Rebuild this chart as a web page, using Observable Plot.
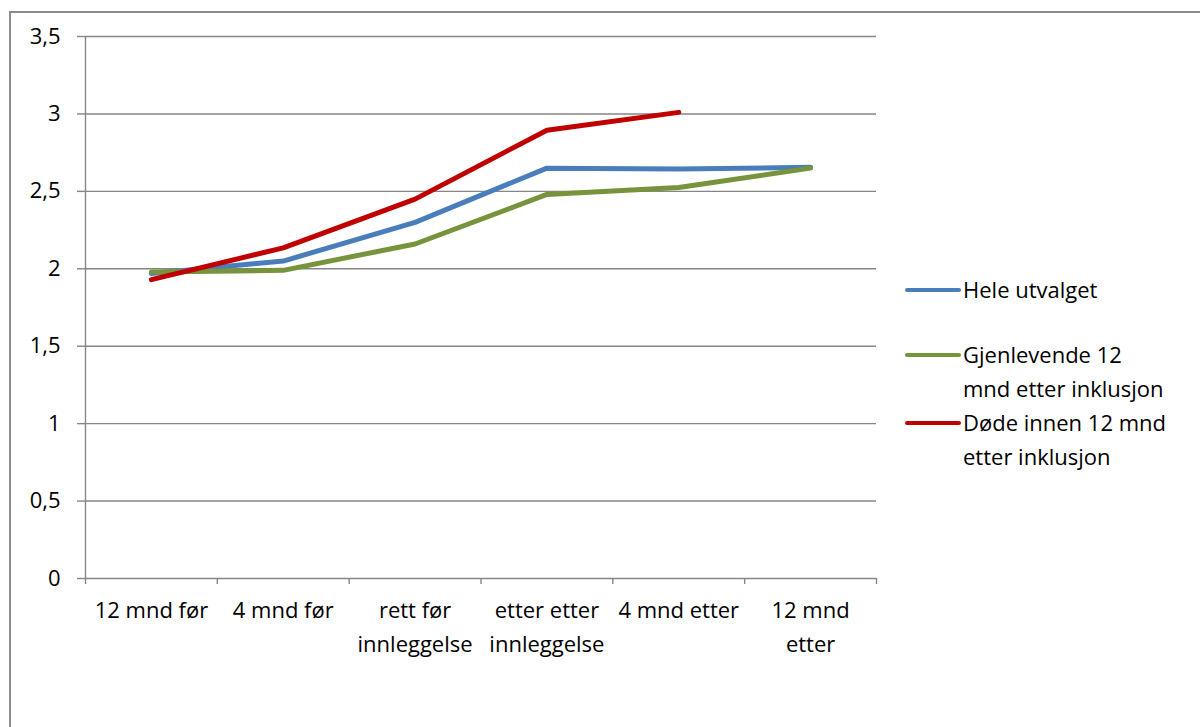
<!DOCTYPE html>
<html>
<head>
<meta charset="utf-8">
<script src="https://cdn.jsdelivr.net/npm/d3@7"></script>
<script src="https://cdn.jsdelivr.net/npm/@observablehq/plot@0.6"></script>
<style>
  html, body { margin: 0; padding: 0; background: #fff; overflow: hidden; }
  body { width: 1200px; height: 727px; position: relative; font-family: "Open Sans", Lato, sans-serif; }
  #frame { position: absolute; left: 9px; top: 11px; width: 1300px; height: 900px; border: 2px solid #8c8c8c; box-sizing: border-box; z-index: 5; pointer-events: none; }
  #chart { position: absolute; left: 0; top: 0; }
  #legend { position: absolute; left: 905px; top: 0; width: 295px; font-size: 22px; color: #000; }
  .item { position: absolute; left: 0; display: flex; align-items: flex-start; }
  .sw { width: 56px; height: 4px; border-radius: 2px; margin-top: 15px; flex: none; }
  .lbl { margin-left: 2px; line-height: 33.5px; white-space: pre; }
</style>
</head>
<body>
<div id="frame"></div>
<div id="chart"></div>
<div id="legend"></div>
<script>
const categories = ["12 mnd før", "4 mnd før", "rett før\ninnleggelse", "etter etter\ninnleggelse", "4 mnd etter", "12 mnd\netter"];
const seriesNames = ["Hele utvalget", "Gjenlevende 12\nmnd etter inklusjon", "Døde innen 12 mnd\netter inklusjon"];
const heleUtvalget = [1.97, 2.05, 2.30, 2.65, 2.645, 2.655];
const gjenlevende = [1.98, 1.99, 2.16, 2.48, 2.525, 2.65];
const dode = [1.93, 2.135, 2.45, 2.895, 3.01, null];
const yTicks = [0, 0.5, 1, 1.5, 2, 2.5, 3, 3.5];
const colors = ["#4a7ebb", "#77933c", "#c00000"];

const seriesValues = [heleUtvalget, gjenlevende, dode];
const rows = [];
seriesValues.forEach((vals, s) => vals.forEach((v, i) => {
  if (v != null) rows.push({series: seriesNames[s], i, v});
}));
const idx = categories.map((_, i) => i);
const bounds = d3.range(-0.5, categories.length, 1);
const grey = "#868686";
const fmt = d => String(d).replace(".", ",");

const chart = Plot.plot({
  width: 1200,
  height: 727,
  marginLeft: 85,
  marginRight: 324,
  marginTop: 36,
  marginBottom: 149,
  style: {fontFamily: "'Open Sans', Lato, sans-serif", fontSize: "22px", color: "#000", background: "transparent"},
  x: {domain: [-0.5, categories.length - 0.5], axis: null, label: null},
  y: {domain: [0, 3.5], axis: null, label: null},
  color: {domain: seriesNames, range: colors},
  marks: [
    Plot.ruleY(yTicks.filter(d => d > 0), {stroke: grey, strokeWidth: 1.4}),
    Plot.ruleY([0], {stroke: grey, strokeWidth: 1.4}),
    Plot.ruleX([-0.5], {y1: 0, y2: 3.5, stroke: grey, strokeWidth: 1.4}),
    Plot.axisY({ticks: yTicks, tickFormat: fmt, tickSize: 8, tickPadding: 17, stroke: grey, strokeWidth: 1.4, fontSize: 22, fill: "#000", label: null}),
    Plot.axisX({ticks: bounds, tickFormat: () => "", tickSize: 6, stroke: grey, strokeWidth: 1.4, label: null}),
    Plot.text(categories, {x: idx, y: () => 0, text: d => d, dy: 16, lineAnchor: "top", lineHeight: 1.53, fontSize: 22, fill: "#000"}),
    Plot.line(rows, {x: "i", y: "v", z: "series", stroke: "series", strokeWidth: 5, strokeLinejoin: "round", strokeLinecap: "round"})
  ]
});
document.getElementById("chart").appendChild(chart);

const legendTops = [273, 338, 406];
const legend = document.getElementById("legend");
seriesNames.forEach((name, s) => {
  const item = document.createElement("div");
  item.className = "item";
  item.style.top = legendTops[s] + "px";
  const sw = document.createElement("div");
  sw.className = "sw";
  sw.style.background = colors[s];
  const lbl = document.createElement("div");
  lbl.className = "lbl";
  lbl.textContent = name;
  item.appendChild(sw);
  item.appendChild(lbl);
  legend.appendChild(item);
});
</script>
</body>
</html>
